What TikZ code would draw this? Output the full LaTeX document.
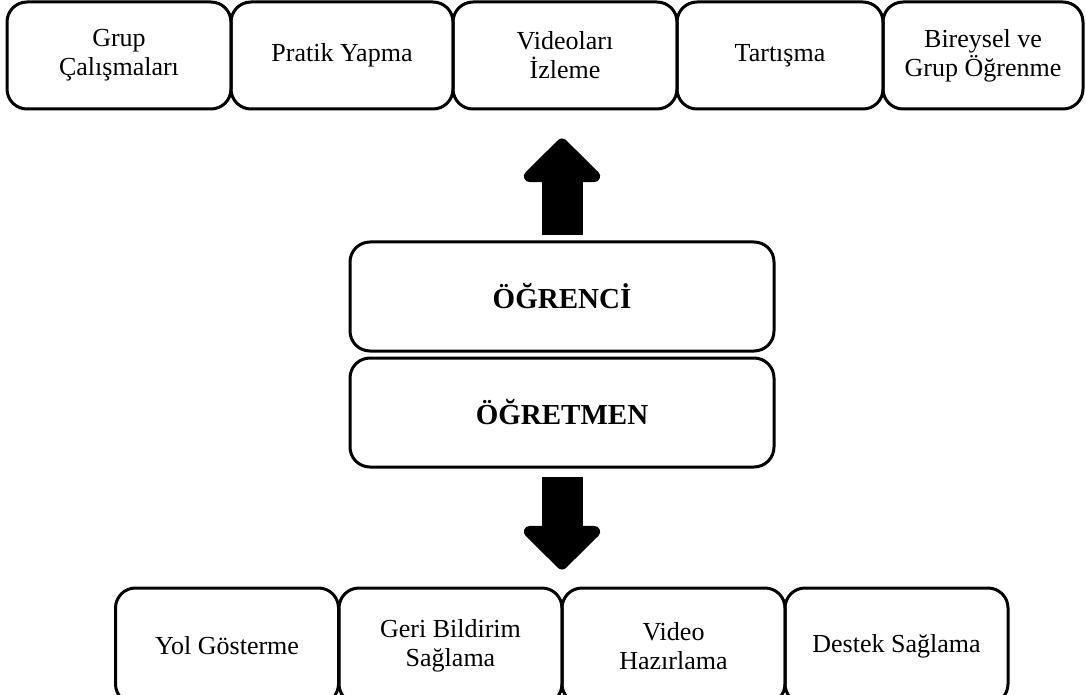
\documentclass[tikz,border=0pt]{standalone}
\usepackage{fontspec}
\setmainfont{Liberation Serif}
\usetikzlibrary{arrows.meta}

\begin{document}
\begin{tikzpicture}[x=0.5pt, y=-0.5pt,
	box/.style={draw, line width=1.5pt, rounded corners=10pt, align=center, minimum height=53.5pt, inner sep=2pt, font=\fontsize{13}{14.5}\selectfont},
	bigbox/.style={draw, line width=1.5pt, rounded corners=10pt, align=center, minimum width=212pt, minimum height=54.5pt, font=\fontsize{14.5}{16}\selectfont\bfseries},
	lowbox/.style={box, minimum width=111.5pt, minimum height=58pt},
	blockarrow/.style={line width=20.5pt, -{Triangle[width=45pt, length=23pt, round]}, line join=round}]
	\useasboundingbox (0,0) rectangle (1086,695);
	\clip (0,0) rectangle (1086,695);
	% top row
	\node[box, minimum width=112pt] (GC) at (119,55.5) {Grup \\ Çalışmaları};
	\node[box, minimum width=111pt] (PY) at (342,55.5) {Pratik Yapma};
	\node[box, minimum width=112pt] (VI) at (565,55.5) {Videoları \\ İzleme};
	\node[box, minimum width=103pt] (TT) at (780,55.5) {Tartışma};
	\node[box, minimum width=100pt] (BG) at (983,55.5) {Bireysel ve \\ Grup Öğrenme};
	% middle
	\node[bigbox] (OG) at (562,296.5) {ÖĞRENCİ};
	\node[bigbox] (OT) at (562,412.5) {ÖĞRETMEN};
	% bottom row
	\node[lowbox] (YG) at (227,646) {Yol Gösterme};
	\node[lowbox] (GB) at (450.5,646) {Geri Bildirim \\ Sağlama};
	\node[lowbox] (VH) at (673.5,646) {Video \\ Hazırlama};
	\node[lowbox] (DS) at (896.5,646) {Destek Sağlama};
	
	\draw[blockarrow, shorten <=2.5pt, shorten >=14pt] (OG.north) -- (OG.north |- VI.south);
	\draw[blockarrow, shorten <=4pt, shorten >=8.5pt] (OT.south) -- (OT.south |- GB.north);
\end{tikzpicture}
\end{document}
